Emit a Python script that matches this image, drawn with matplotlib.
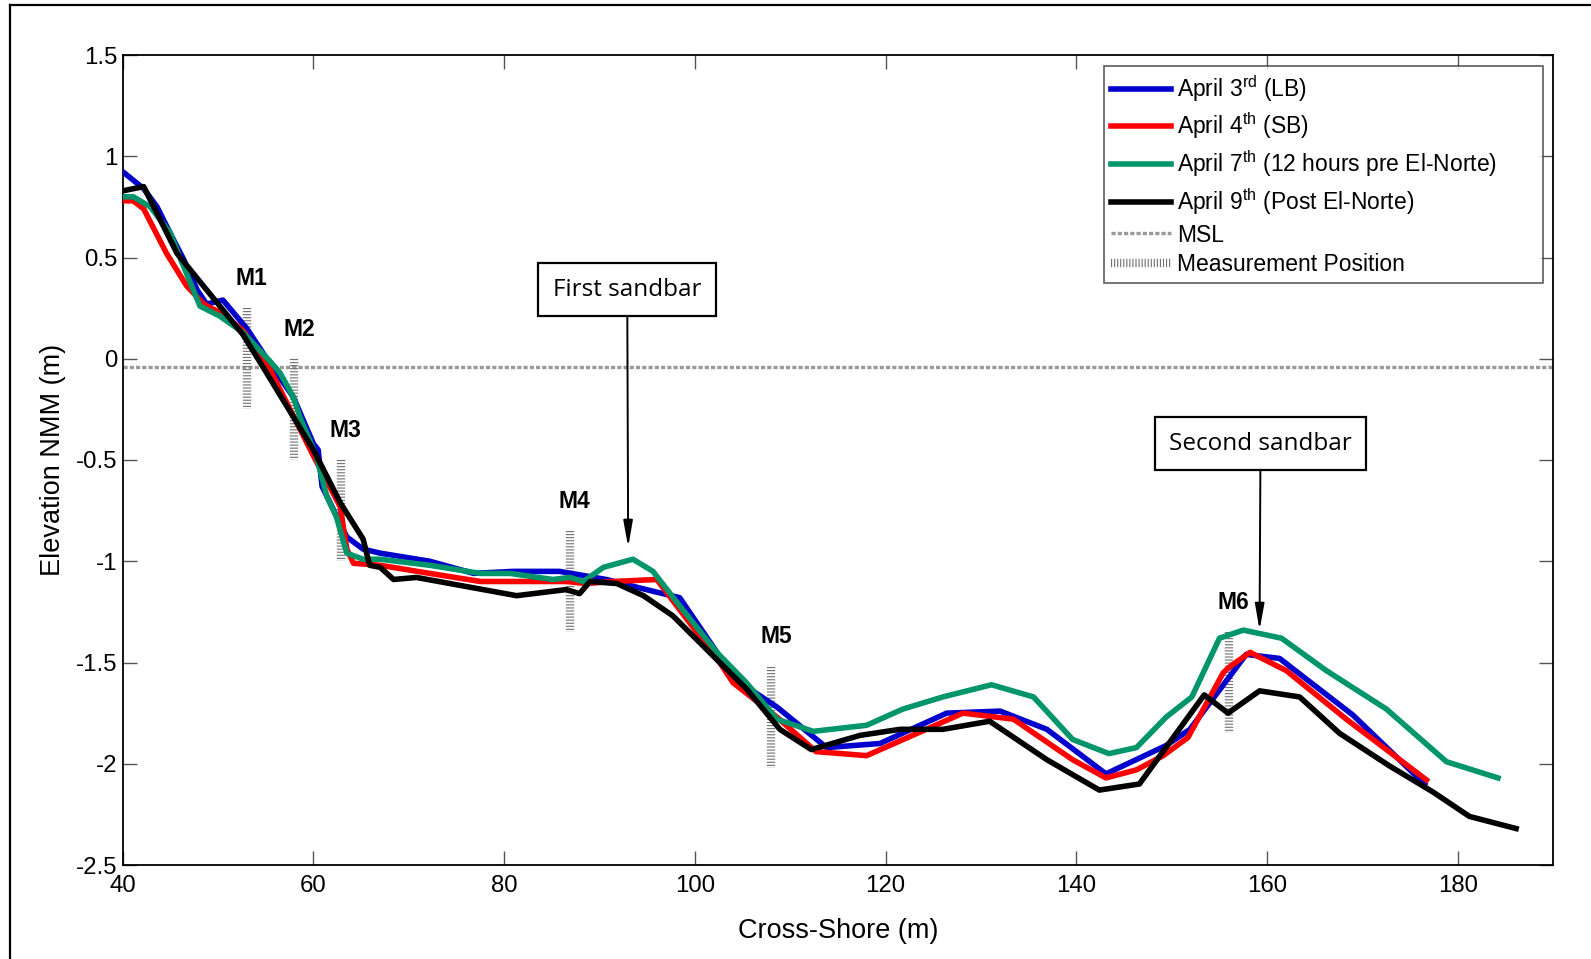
import matplotlib
matplotlib.use("Agg")
import matplotlib.pyplot as plt
from matplotlib.lines import Line2D

plt.rcParams['font.family'] = ['Liberation Sans', 'DejaVu Sans']
plt.rcParams['mathtext.fontset'] = 'custom'
plt.rcParams['mathtext.rm'] = 'Liberation Sans'
plt.rcParams['mathtext.it'] = 'Liberation Sans:italic'
plt.rcParams['axes.unicode_minus'] = False
plt.rcParams['lines.scale_dashes'] = False

# beach profiles, cross-shore distance (m) vs elevation (m NMM)
apr3_x = [40.1, 42.2, 43.6, 45.3, 46.4, 47.8, 48.8, 50.5, 53.0, 55.4, 57.9, 60.0, 60.5, 60.9,
          63.5, 65.2, 67.0, 72.2, 76.8, 80.9, 85.8, 90.7, 94.9, 98.4, 102.6, 105.4, 108.6,
          113.8, 119.4, 126.4, 132.0, 136.9, 143.1, 149.4, 151.9, 157.8, 161.3, 169.0, 176.5]
apr3_y = [0.92, 0.84, 0.75, 0.59, 0.49, 0.34, 0.27, 0.29, 0.15, -0.02, -0.19, -0.42, -0.45, -0.63,
          -0.88, -0.94, -0.96, -1.00, -1.06, -1.05, -1.05, -1.09, -1.14, -1.18, -1.47, -1.62, -1.72,
          -1.92, -1.90, -1.75, -1.74, -1.83, -2.05, -1.91, -1.83, -1.46, -1.48, -1.76, -2.10]

apr4_x = [40.1, 41.1, 42.2, 44.6, 46.7, 48.5, 50.5, 52.6, 55.1, 60.0, 62.8, 63.5, 64.2, 67.0,
          72.2, 77.5, 86.5, 88.6, 91.4, 96.0, 102.6, 104.0, 108.6, 112.7, 118.0, 128.1, 133.4,
          139.6, 143.1, 146.3, 149.1, 151.7, 155.4, 156.1, 158.2, 162.0, 168.3, 176.7]
apr4_y = [0.78, 0.78, 0.74, 0.52, 0.36, 0.27, 0.22, 0.14, -0.02, -0.48, -0.73, -0.94, -1.01, -1.02,
          -1.06, -1.10, -1.10, -1.11, -1.10, -1.09, -1.50, -1.60, -1.77, -1.94, -1.96, -1.75, -1.78,
          -1.98, -2.07, -2.03, -1.96, -1.87, -1.55, -1.52, -1.45, -1.54, -1.78, -2.08]

apr7_x = [40.1, 41.1, 42.9, 45.0, 46.0, 48.1, 50.2, 52.6, 55.4, 56.5, 57.9, 58.6, 60.3, 61.4,
          62.4, 63.5, 65.2, 67.0, 72.2, 77.5, 80.6, 85.1, 86.9, 88.3, 90.4, 93.5, 95.6, 98.4,
          102.3, 105.4, 108.6, 112.4, 118.0, 121.8, 126.0, 131.1, 135.5, 139.6, 143.4, 146.3,
          149.4, 152.1, 155.0, 157.5, 161.5, 166.2, 172.5, 178.8, 184.2]
apr7_y = [0.80, 0.80, 0.75, 0.62, 0.50, 0.26, 0.21, 0.13, -0.01, -0.07, -0.19, -0.29, -0.48, -0.68,
          -0.78, -0.96, -0.99, -0.99, -1.02, -1.06, -1.06, -1.09, -1.08, -1.10, -1.03, -0.99, -1.05, -1.22,
          -1.45, -1.60, -1.78, -1.84, -1.81, -1.73, -1.67, -1.61, -1.67, -1.88, -1.95, -1.92,
          -1.77, -1.67, -1.38, -1.34, -1.38, -1.54, -1.73, -1.99, -2.07]

apr9_x = [40.1, 42.2, 45.7, 48.8, 52.6, 54.7, 60.0, 62.8, 65.2, 65.9, 67.0, 68.4, 70.8, 81.3,
          86.5, 87.9, 89.0, 91.8, 94.6, 97.7, 102.6, 105.4, 108.9, 112.2, 117.3, 121.5, 126.0,
          130.9, 136.9, 142.4, 146.6, 153.4, 155.9, 159.2, 163.4, 167.6, 172.8, 177.4, 181.2, 186.1]
apr9_y = [0.83, 0.85, 0.52, 0.34, 0.12, -0.04, -0.45, -0.71, -0.89, -1.02, -1.03, -1.09, -1.08, -1.17,
          -1.14, -1.16, -1.10, -1.11, -1.17, -1.27, -1.50, -1.63, -1.83, -1.93, -1.86, -1.83, -1.83,
          -1.79, -1.98, -2.13, -2.10, -1.66, -1.75, -1.64, -1.67, -1.85, -2.01, -2.14, -2.26, -2.32]

msl = -0.04

# measurement positions: x, bar top, bar bottom
mp_names = ['M1', 'M2', 'M3', 'M4', 'M5', 'M6']
mp_x = [53.0, 58.0, 62.9, 86.9, 108.0, 156.0]
mp_top = [0.25, 0.0, -0.50, -0.85, -1.52, -1.35]
mp_bot = [-0.25, -0.50, -1.00, -1.35, -2.02, -1.85]

xticks = [40, 60, 80, 100, 120, 140, 160, 180]
yticks = [1.5, 1, 0.5, 0, -0.5, -1, -1.5, -2, -2.5]
ytick_labels = ['1.5', '1', '0.5', '0', '-0.5', '-1', '-1.5', '-2', '-2.5']

W, H = 1591, 959
fig = plt.figure(figsize=(W / 100, H / 100), dpi=100)
ax = fig.add_axes([122.7 / W, 1 - 865 / H, (1553.3 - 122.7) / W, (865 - 55) / H])

blue = '#0000CC'
red = '#FF0000'
green = '#00956A'
lw = 4.0
mp_style = dict(color='#707070', lw=6, dashes=(0.8, 1.4))

ax.axhline(msl, color='#999999', lw=2.4, dashes=(3, 1.5), zorder=1)
for x, t, b in zip(mp_x, mp_top, mp_bot):
    ax.plot([x, x], [t, b], zorder=2, **mp_style)
for name, x, t in zip(mp_names, mp_x, mp_top):
    ax.text(x + 0.5, t + 0.09, name, ha='center', va='bottom', fontsize=16.5,
            fontweight='bold')

ax.plot(apr3_x, apr3_y, color=blue, lw=lw, zorder=3)
ax.plot(apr4_x, apr4_y, color=red, lw=lw, zorder=4)
ax.plot(apr7_x, apr7_y, color=green, lw=lw, zorder=5)
ax.plot(apr9_x, apr9_y, color='black', lw=lw, zorder=6)

box = dict(boxstyle='square,pad=0.6', fc='white', ec='black', lw=1.6)
arrow = dict(arrowstyle='-|>,head_width=0.16,head_length=0.9', color='black', lw=1.4,
             shrinkA=0, shrinkB=0)
ax.annotate('First sandbar', xy=(93.0, -0.93), xytext=(92.9, 0.34), ha='center', va='center',
            fontsize=17.5, family='Open Sans', bbox=box, arrowprops=arrow, zorder=7)
ax.annotate('Second sandbar', xy=(159.2, -1.34), xytext=(159.3, -0.42), ha='center',
            va='center', fontsize=17.5, family='Open Sans', bbox=box, arrowprops=arrow, zorder=7)

ax.set_xlim(40, 190)
ax.set_ylim(-2.5, 1.5)
ax.set_xticks(xticks)
ax.set_yticks(yticks)
ax.set_yticklabels(ytick_labels)
ax.tick_params(direction='in', length=10, width=1, color='#555555', top=True, right=True,
               labelsize=17.3)
ax.tick_params(axis='x', pad=7)
ax.tick_params(axis='y', pad=4)
for s in ax.spines.values():
    s.set_linewidth(1.3)
ax.set_xlabel('Cross-Shore (m)', fontsize=19.5, labelpad=15)
ax.set_ylabel('Elevation NMM (m)', fontsize=19.5, labelpad=7)

handles = [
    Line2D([], [], color=blue, lw=lw),
    Line2D([], [], color=red, lw=lw),
    Line2D([], [], color=green, lw=lw),
    Line2D([], [], color='black', lw=lw),
    Line2D([], [], color='#999999', lw=2.4, dashes=(3, 1.5)),
    Line2D([], [], **mp_style),
]
labels = [r'April 3$^{\rm rd}$ (LB)', r'April 4$^{\rm th}$ (SB)',
          r'April 7$^{\rm th}$ (12 hours pre El-Norte)', r'April 9$^{\rm th}$ (Post El-Norte)',
          'MSL', 'Measurement Position']
leg = ax.legend(handles, labels, loc='upper left', bbox_to_anchor=(0.686, 0.986, 0.307, 0),
                mode='expand', fontsize=16.5, frameon=True, fancybox=False, handlelength=2.6,
                handletextpad=0.3, borderpad=0.3, labelspacing=0.3, borderaxespad=0)
leg.get_frame().set_edgecolor('#333333')
leg.get_frame().set_linewidth(1.2)

# outer frame
fig.add_artist(Line2D([10 / W, 10 / W], [0, 1 - 5 / H], color='black', lw=1.6))
fig.add_artist(Line2D([10 / W, 1], [1 - 5 / H, 1 - 5 / H], color='black', lw=1.6))

fig.savefig('out.png', dpi=100)
